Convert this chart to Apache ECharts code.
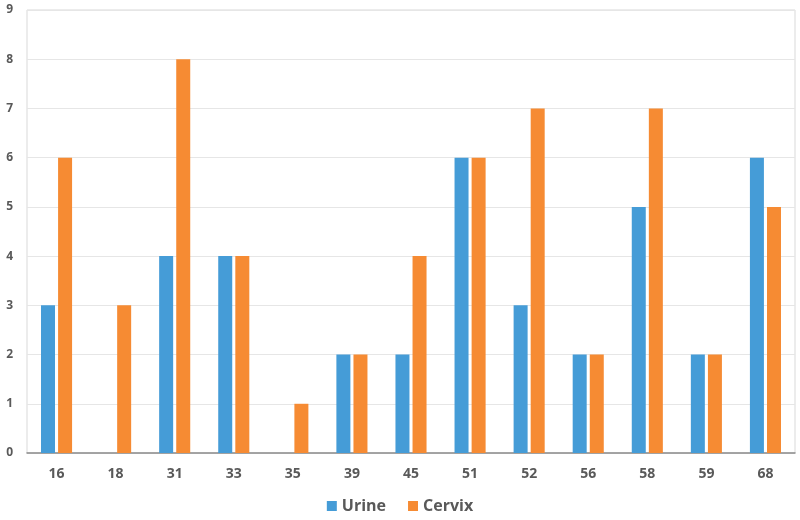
<!DOCTYPE html>
<html><head><meta charset="utf-8">
<script src="https://cdn.jsdelivr.net/npm/echarts@6/dist/echarts.min.js"></script>
<style>html,body{margin:0;padding:0;background:#fff}#c{width:800px;height:520px}</style>
</head><body><div id="c"></div>
<script>
var categories = ['16','18','31','33','35','39','45','51','52','56','58','59','68'];
var urine = [3,0,4,4,0,2,2,6,3,2,5,2,6];
var cervix = [6,3,8,4,1,2,4,6,7,2,7,2,5];
var chart = echarts.init(document.getElementById('c'));
chart.setOption({
  animation:false,
  textStyle:{fontFamily:'Open Sans'},
  grid:{left:27,right:5,top:10,bottom:67,show:true,borderColor:'#d9d9d9',borderWidth:1},
  legend:{bottom:1,left:'center',itemWidth:10,itemHeight:10,itemGap:22,icon:'rect',
    textStyle:{color:'#595959',fontSize:16,fontWeight:'bold'},data:['Urine','Cervix']},
  xAxis:{type:'category',data:categories,
    axisLine:{lineStyle:{color:'#8c8c8c',width:1.5}},axisTick:{show:false},
    axisLabel:{color:'#595959',fontSize:14,fontWeight:'bold',margin:14}},
  yAxis:{type:'value',min:0,max:9,interval:1,
    axisLine:{show:false},axisTick:{show:false},
    splitLine:{lineStyle:{color:'#e6e6e6'}},
    axisLabel:{color:'#595959',fontSize:12,fontWeight:'bold',margin:14}},
  series:[
    {name:'Urine',type:'bar',data:urine,barWidth:14,barGap:'22%',itemStyle:{color:'#459cd7'}},
    {name:'Cervix',type:'bar',data:cervix,barWidth:14,barGap:'22%',itemStyle:{color:'#f68b33'}}
  ]
});
</script></body></html>
